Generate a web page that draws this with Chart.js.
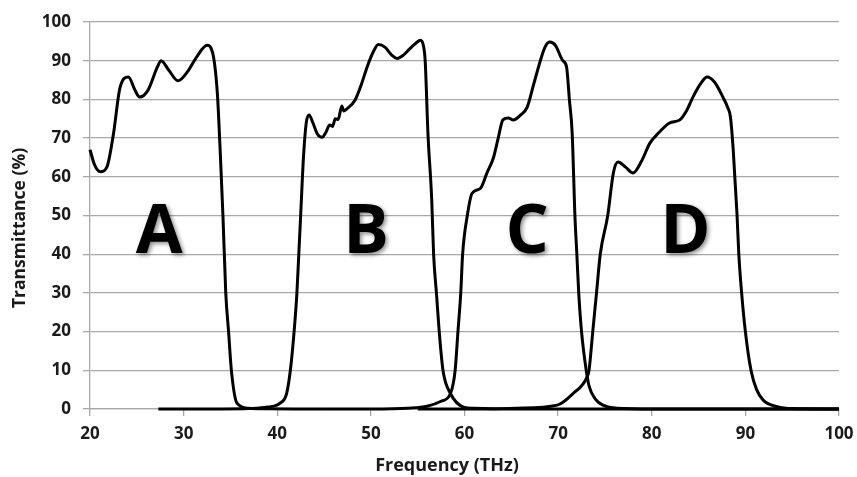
<!DOCTYPE html>
<html>
<head>
<meta charset="utf-8">
<script src="https://cdn.jsdelivr.net/npm/chart.js@4"></script>
<style>
  html, body { margin: 0; padding: 0; background: #fff; }
  #wrap { width: 857px; height: 477px; }
</style>
</head>
<body>
<div id="wrap"><canvas id="filterChart"></canvas></div>
<script>
// Filter transmittance curves
const freqA = [20, 20.5, 21.1, 21.8, 22.5, 23.2, 24.1, 24.8, 25.3, 26.2, 27.2, 27.6, 28.4, 29.4, 30.4, 31.4, 32.5, 33.1, 33.6, 33.9, 34.2, 34.5, 34.8, 35.1, 35.7, 36.9, 39, 42, 45];
const transA = [67, 63, 61.3, 62.5, 71, 83, 85.8, 82.4, 80.6, 82.4, 88.4, 90, 87.6, 84.8, 87.1, 91, 94, 92, 81.6, 67, 50, 30, 20, 10, 1.5, 0.2, 0.05, 0, 0];

const freqB = [27.3, 34, 37, 39, 40.3, 41.0, 41.4, 41.8, 42.1, 42.3, 42.5, 42.8, 43.1, 43.4, 43.8, 44.3, 44.8, 45.2, 45.6, 45.9, 46.2, 46.5, 46.9, 47.1, 47.4, 48.3, 49.0, 49.6, 50.2, 50.8, 51.5, 52.2, 52.8, 53.5, 54.2, 54.8, 55.3, 55.6, 55.8, 56.1, 56.5, 56.7, 57.0, 57.3, 57.7, 58.5, 59.9, 61, 65, 100];
const transB = [0, 0, 0.1, 0.5, 1.5, 4, 10, 20, 30, 40, 50, 65, 74, 76, 74, 71, 70.2, 71.5, 73.4, 73, 75, 74.8, 78.3, 77, 77.5, 79.8, 84, 88.4, 92, 94.2, 93.5, 91.5, 90.6, 91.5, 93.2, 94.5, 95.3, 94, 90, 71, 54, 40, 30, 20, 10, 4, 0.5, 0.2, 0, 0];

const freqC = [45, 50, 54, 56, 57.5, 58.5, 59.0, 59.3, 59.6, 59.8, 60.3, 60.8, 61.7, 62.4, 63.1, 63.6, 64.1, 64.7, 65.2, 66.0, 66.7, 67.4, 68.1, 68.6, 69.1, 69.7, 70.5, 70.9, 71.2, 71.5, 71.8, 72.0, 72.2, 72.5, 73.0, 73.3, 74.0, 74.8, 76.3, 80, 100];
const transC = [0, 0, 0.2, 0.7, 2, 4, 10, 20, 30, 40, 50, 55.7, 57, 61, 65, 70, 74.7, 75.2, 74.7, 76, 78, 84, 90, 93.5, 94.8, 94, 90, 88.4, 80, 71.3, 49.6, 40, 30, 20, 10, 6, 2.5, 1, 0.2, 0, 0];

const freqD = [55, 62, 65.6, 69.9, 71.6, 73.1, 73.3, 73.7, 74.1, 74.5, 75.3, 75.9, 76.4, 77.2, 78.0, 78.9, 79.8, 80.8, 81.9, 83.0, 83.7, 84.4, 85.2, 85.9, 86.7, 87.6, 88.1, 88.4, 88.7, 89.1, 89.3, 89.6, 90.0, 90.6, 91.2, 91.9, 93.4, 95, 100];
const transD = [0, 0, 0.2, 1, 4, 8.3, 10, 20, 30, 40, 50, 61, 63.8, 62.5, 61, 64, 68.7, 71.5, 73.9, 74.7, 77, 80.6, 84, 85.8, 84.5, 80.6, 78, 75.5, 67, 50.6, 40, 30, 20, 10, 5, 2.3, 0.6, 0.1, 0];

const curveNames = ['A', 'B', 'C', 'D'];
const xTicks = [20, 30, 40, 50, 60, 70, 80, 90, 100];
const yTicks = [0, 10, 20, 30, 40, 50, 60, 70, 80, 90, 100];

// where the big band letters sit (frequency, transmittance of baseline)
const letterFreq = [27.4, 49.5, 66.7, 83.6];
const letterTrans = [40.3, 40.3, 40.3, 40.3];

function toPoints(xs, ys) {
  return xs.map((x, i) => ({ x: x, y: ys[i] }));
}

const fontFamily = '"Open Sans", "DejaVu Sans", sans-serif';
const gridGray = '#a8a8a8';
const textColor = '#1a1a1a';

// band letters with a soft shadow, plus the two axis titles
const overlayText = {
  id: 'overlayText',
  afterDatasetsDraw(chart) {
    const ctx = chart.ctx;
    const xs = chart.scales.x, ys = chart.scales.y;
    ctx.save();
    ctx.font = 'bold 68px ' + fontFamily;
    ctx.textAlign = 'center';
    ctx.textBaseline = 'alphabetic';
    ctx.fillStyle = '#000';
    ctx.shadowColor = 'rgba(0,0,0,0.45)';
    ctx.shadowBlur = 4;
    ctx.shadowOffsetX = 2;
    ctx.shadowOffsetY = 2;
    curveNames.forEach((name, i) => {
      ctx.fillText(name, xs.getPixelForValue(letterFreq[i]), ys.getPixelForValue(letterTrans[i]));
    });
    ctx.restore();

    ctx.save();
    ctx.fillStyle = textColor;
    ctx.textAlign = 'center';
    ctx.textBaseline = 'middle';
    ctx.font = 'bold 18px ' + fontFamily;
    ctx.fillText('Frequency (THz)', 447, 466);
    ctx.translate(20, 228);
    ctx.rotate(-Math.PI / 2);
    ctx.font = 'bold 17.5px ' + fontFamily;
    ctx.fillText('Transmittance (%)', 0, 0);
    ctx.restore();
  }
};

const series = [[freqA, transA], [freqB, transB], [freqC, transC], [freqD, transD]];

const ctx = document.getElementById('filterChart').getContext('2d');
const filterChart = new Chart(ctx, {
  type: 'line',
  data: {
    datasets: series.map((s, i) => ({
      label: curveNames[i],
      data: toPoints(s[0], s[1]),
      borderColor: '#000',
      borderWidth: 3,
      pointRadius: 0,
      fill: false,
      clip: false,
      cubicInterpolationMode: 'monotone'
    }))
  },
  options: {
    responsive: true,
    maintainAspectRatio: false,
    animation: false,
    layout: { padding: { top: 22, right: 18, left: 0, bottom: 0 } },
    plugins: {
      legend: { display: false },
      tooltip: { enabled: false }
    },
    scales: {
      x: {
        type: 'linear',
        min: 20,
        max: 100,
        afterFit: s => { s.height = 68; s.paddingLeft = 0; s.paddingRight = 0; },
        afterBuildTicks: s => { s.ticks = xTicks.map(v => ({ value: v })); },
        grid: { drawOnChartArea: false, drawTicks: true, tickLength: 7, color: gridGray, lineWidth: 1.3 },
        border: { color: gridGray, width: 1.3 },
        ticks: { color: textColor, font: { family: fontFamily, size: 17, weight: 'bold' }, padding: 8, maxRotation: 0 }
      },
      y: {
        min: 0,
        max: 100,
        afterFit: s => { s.width = 90; s.paddingTop = 0; s.paddingBottom = 0; },
        afterBuildTicks: s => { s.ticks = yTicks.map(v => ({ value: v })); },
        grid: { color: gridGray, lineWidth: 1.3, tickLength: 7 },
        border: { color: gridGray, width: 1.3 },
        ticks: { color: textColor, font: { family: fontFamily, size: 17, weight: 'bold' }, padding: 12 }
      }
    }
  },
  plugins: [overlayText]
});
</script>
</body>
</html>
